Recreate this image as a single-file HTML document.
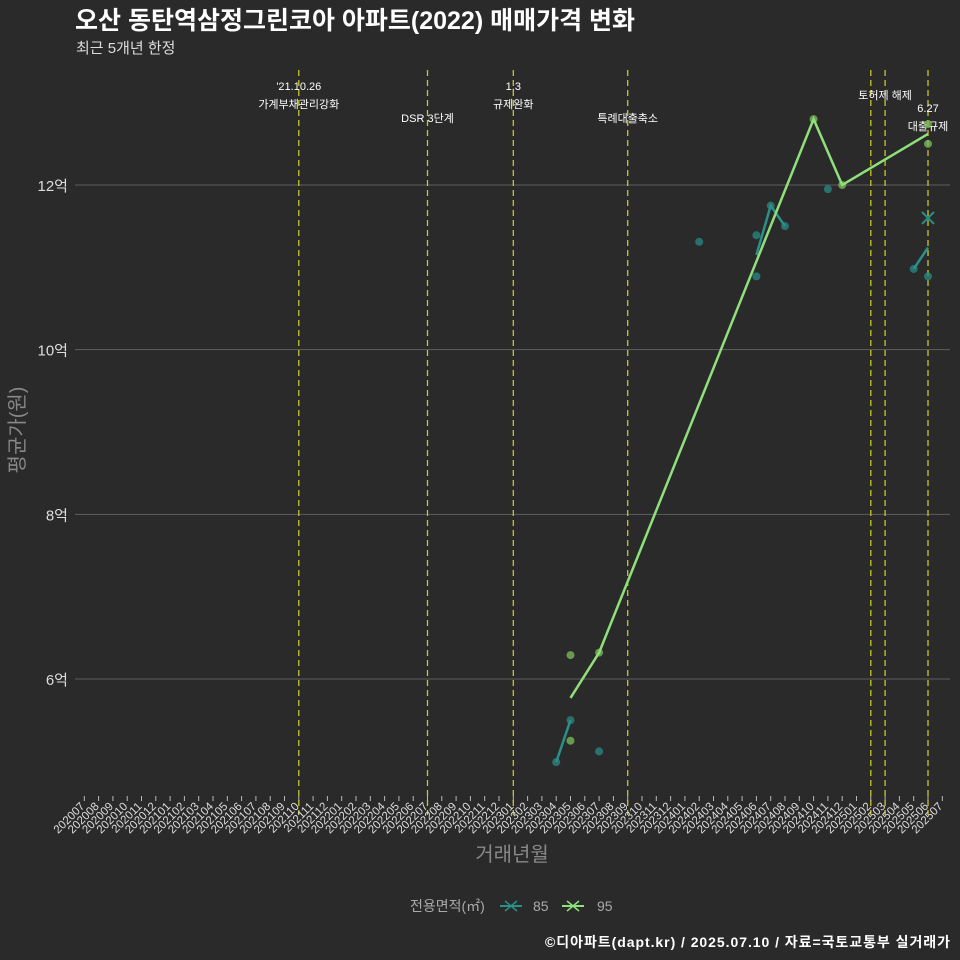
<!DOCTYPE html>
<html><head><meta charset="utf-8"><style>
body{margin:0;background:#2a2a2b;}
svg{display:block;font-family:"Liberation Sans","Noto Sans CJK KR",sans-serif;}
</style></head><body>
<svg id="chart" width="960" height="960">
<rect width="960" height="960" fill="#2a2a2b"/>
<text x="75" y="29" fill="#fff" font-size="25" font-weight="bold">오산 동탄역삼정그린코아 아파트(2022) 매매가격 변화</text>
<text x="76" y="53" fill="#ddd" font-size="15">최근 5개년 한정</text>
<g id="grid"></g><g id="vlines"></g><g id="series"></g><g id="xaxis"></g>
<text transform="translate(24,430) rotate(-90)" text-anchor="middle" fill="#888" font-size="20">평균가(원)</text>
<text x="512" y="861" text-anchor="middle" fill="#888" font-size="20">거래년월</text>
<g>
<text x="410" y="911" fill="#aaa" font-size="14">전용면적(㎡)</text>
<g><line x1="500" y1="906" x2="522" y2="906" stroke="#2a9088" stroke-width="2"/><path d="M505 901 L517 911 M517 901 L505 911" stroke="#2a9088" stroke-width="1.5"/><text x="533" y="911" fill="#aaa" font-size="14">85</text></g>
<g><line x1="562" y1="906" x2="584" y2="906" stroke="#8fe07a" stroke-width="2"/><path d="M567 901 L579 911 M579 901 L567 911" stroke="#8fe07a" stroke-width="1.5"/><text x="597" y="911" fill="#aaa" font-size="14">95</text></g>
</g>
<text x="950" y="947" text-anchor="end" fill="#fff" font-size="14" font-weight="bold" textLength="405">©디아파트(dapt.kr) / 2025.07.10 / 자료=국토교통부 실거래가</text>
</svg>
<script>
const months=[];for(let y=2020;y<=2025;y++)for(let m=1;m<=12;m++){const k=y*100+m;if(k>=202007&&k<=202507)months.push(String(k));}
const yTicks=[6,8,10,12];
const yTickLabels=['6억','8억','10억','12억'];
const eventMonths=['202110','202207','202301','202309','202502','202503','202506'];
const eventLabels=[["'21.10.26","가계부채관리강화"],["DSR 3단계"],["1.3","규제완화"],["특례대출축소"],[],["토허제 해제"],["6.27","대출규제"]];
const eventLabelY=[90,122,90,122,0,99,112];
// mean line values (억), null = gap
const line85Months=['202304','202305',null,'202406','202407','202408',null,'202505','202506'];
const line85Values=[4.99,5.5,null,11.15,11.75,11.5,null,10.98,11.24];
const line95Months=['202305','202307','202410','202412','202506'];
const line95Values=[5.77,6.32,12.8,12.0,12.62];
const pts85Months=['202304','202305','202307','202402','202406','202406','202407','202408','202411','202505','202506'];
const pts85Values=[4.99,5.5,5.12,11.31,11.39,10.89,11.75,11.5,11.95,10.98,10.89];
const pts95Months=['202305','202305','202307','202410','202412','202506','202506'];
const pts95Values=[6.29,5.25,6.32,12.8,12.0,12.74,12.5];
const latest85=[['202506',11.6]];

const NS='http://www.w3.org/2000/svg';
const X=m=>84.3+months.indexOf(m)*14.3;
const Y=v=>185+(12-v)*82.33;
function mk(t,a,p){const e=document.createElementNS(NS,t);for(const k in a)e.setAttribute(k,a[k]);p.appendChild(e);return e;}
const grid=document.getElementById('grid');
yTicks.forEach((v,i)=>{const l=mk('line',{x1:75,x2:950,y1:Y(v),y2:Y(v),stroke:'#5e5e5e','stroke-width':1},grid);

const t=mk('text',{x:68,y:Y(v)+6,'text-anchor':'end',fill:'#ddd','font-size':15},grid);t.textContent=yTickLabels[i];
});
const vl=document.getElementById('vlines');
eventMonths.forEach((m,i)=>{const l=mk('line',{x1:X(m),x2:X(m),y1:70,y2:815,stroke:'#c8c820','stroke-width':1.3,'stroke-dasharray':'6,4'},vl);

eventLabels[i].forEach((s,j)=>{const t=mk('text',{x:X(m),y:eventLabelY[i]+j*18,'text-anchor':'middle',fill:'#fff','font-size':11},vl);t.textContent=s;
});});
const sg=document.getElementById('series');
function drawLine(ms,vs,col,name){let seg=[];const flush=()=>{if(seg.length>1){const p=mk('polyline',{points:seg.join(' '),fill:'none',stroke:col,'stroke-width':2.5},sg);}seg=[];};
ms.forEach((m,i)=>{if(m===null||vs[i]===null){flush();return;}seg.push(X(m)+','+Y(vs[i]));});flush();}
function drawPts(ms,vs,col,name){ms.forEach((m,i)=>{const c=mk('circle',{cx:X(m),cy:Y(vs[i]),r:4,fill:col,'fill-opacity':0.75},sg);});}
drawPts(pts85Months,pts85Values,'#2a8a84','point-85');
drawPts(pts95Months,pts95Values,'#7cc05a','point-95');
drawLine(line85Months,line85Values,'#2a9088','line-85');
drawLine(line95Months,line95Values,'#8fe07a','line-95');
latest85.forEach(([m,v])=>{const p=mk('path',{d:`M${X(m)-6} ${Y(v)-6}L${X(m)+6} ${Y(v)+6}M${X(m)+6} ${Y(v)-6}L${X(m)-6} ${Y(v)+6}`,stroke:'#2a9088','stroke-width':2},sg);});
const xa=document.getElementById('xaxis');
months.forEach(m=>{const x=X(m);const l=mk('line',{x1:x,x2:x,y1:796,y2:801,stroke:'#bbb'},xa);
const t=mk('text',{transform:`translate(${x+1},807) rotate(-45)`,'text-anchor':'end',fill:'#ddd','font-size':11.5},xa);t.textContent=m;
});
</script>
</body></html>
